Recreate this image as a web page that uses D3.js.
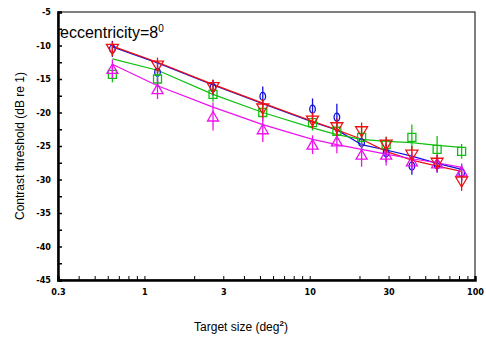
<!DOCTYPE html>
<html lang="en">
<head>
<meta charset="UTF-8">
<script src="https://cdn.jsdelivr.net/npm/d3@7"></script>
<style>
  body { margin: 0; background: #fff; }
  svg { display: block; }
  .tick-label { font-family: "DejaVu Sans Condensed", "Liberation Sans Narrow", sans-serif; font-weight: bold; font-size: 9px; }
  .title { font-family: "Liberation Sans", Arial, sans-serif; font-size: 12px; }
</style>
</head>
<body>
<div id="chart"></div>
<script>
// target sizes (deg^2)
const sizes = [0.64, 1.2, 2.6, 5.2, 10.4, 14.6, 20.6, 29, 41.5, 59, 83];

// thresholds (dB re 1) per condition
const blueVals    = [-10.5, -14.0, -16.3, -17.6, -19.5, -20.7, -24.5, -26.0, -28.0, -27.8, -29.0];
const redVals     = [-10.5, -13.0, -16.2, -19.4, -21.2, -22.2, -22.8, -24.8, -26.3, -27.5, -30.3];
const greenVals   = [-14.3, -15.0, -17.3, -20.0, -21.5, -22.8, -23.7, -24.8, -23.7, -25.5, -25.8];
const magentaVals = [-13.5, -16.5, -20.6, -22.5, -24.8, -24.3, -26.3, -26.3, -27.3, -27.6, -28.8];

// error bar half-lengths (dB)
const blueErr    = [0.6, 0.8, 0.6, 0.9, 1.0, 1.4, 0.6, 0.8, 0.7, 0.6, 0.6];
const redErr     = [0.5, 0.6, 0.5, 0.8, 0.6, 0.7, 0.7, 0.6, 0.7, 0.6, 0.8];
const greenErr   = [0.6, 0.6, 0.5, 0.7, 0.6, 0.7, 1.0, 0.6, 1.3, 1.4, 0.5];
const magentaErr = [0.8, 0.9, 1.5, 1.3, 0.8, 1.2, 1.2, 1.0, 0.9, 0.7, 0.6];

// fitted curves at the same sizes
const blueFit    = [-10.2, -12.6, -15.9, -18.7, -21.4, -22.6, -24.8, -25.6, -26.5, -27.6, -28.5];
const redFit     = [-10.1, -12.5, -15.8, -18.6, -21.3, -22.6, -24.0, -25.8, -27.1, -28.0, -28.8];
const greenFit   = [-12.0, -13.7, -17.3, -20.0, -22.3, -23.3, -24.0, -24.3, -24.5, -24.9, -25.2];
const magentaFit = [-12.8, -16.0, -19.2, -21.8, -24.0, -24.8, -25.5, -26.2, -26.9, -27.5, -28.2];

const xTickVals = [0.3, 1, 3, 10, 30, 100];
const yTickVals = [-5, -10, -15, -20, -25, -30, -35, -40, -45];

const width = 486, height = 342;
const margin = { left: 58, right: 11, top: 12, bottom: 62 };

const svg = d3.select("#chart").append("svg")
    .attr("width", width)
    .attr("height", height);

const x = d3.scaleLog().domain([0.3, 100]).range([margin.left, width - margin.right]);
const y = d3.scaleLinear().domain([-45, -5]).range([height - margin.bottom, margin.top]);

// frame
svg.append("rect")
    .attr("x", x(0.3)).attr("y", y(-5))
    .attr("width", x(100) - x(0.3)).attr("height", y(-45) - y(-5))
    .attr("fill", "none").attr("stroke", "#000").attr("stroke-width", 1);

// x axis (ticks inward)
const xMinor = [];
[0.1, 1, 10].forEach(d => { for (let k = 2; k <= 9; k++) { const v = d * k; if (v > 0.3 && v < 100 && v !== 0.3 && v !== 3 && v !== 30) xMinor.push(v); } });
const xAxis = d3.axisBottom(x).tickValues(xTickVals.concat(xMinor))
    .tickSize(-4).tickPadding(9)
    .tickFormat(d => xTickVals.includes(d) ? String(d) : "");
const gx = svg.append("g").attr("transform", `translate(0,${y(-45)})`).call(xAxis);
gx.select(".domain").attr("stroke-width", 2.5);
gx.selectAll(".tick line").attr("stroke-width", 1);
gx.selectAll("text").attr("class", "tick-label").attr("fill", "#000");

// y axis (ticks inward)
const yMinor = d3.range(-42.5, -5, 5);
const yAxis = d3.axisLeft(y).tickValues(yTickVals.concat(yMinor))
    .tickSize(-4).tickPadding(7)
    .tickFormat(d => yTickVals.includes(d) ? String(d) : "");
const gy = svg.append("g").attr("transform", `translate(${x(0.3)},0)`).call(yAxis);
gy.select(".domain").attr("stroke-width", 2.5);
gy.selectAll(".tick line").attr("stroke-width", 1.5);
gy.selectAll("text").attr("class", "tick-label").attr("fill", "#000");

// titles
svg.append("text").attr("class", "title")
    .attr("transform", `translate(24,${(y(-5) + y(-45)) / 2}) rotate(-90)`)
    .attr("text-anchor", "middle")
    .text("Contrast threshold (dB re 1)");

const xt = svg.append("text").attr("class", "title")
    .attr("x", 241).attr("y", 331).attr("text-anchor", "middle");
xt.append("tspan").text("Target size (deg");
xt.append("tspan").attr("dy", -5).attr("font-size", 8).attr("font-weight", "bold").text("2");
xt.append("tspan").attr("dy", 5).text(")");

const ecc = svg.append("text")
    .attr("x", 60).attr("y", 38)
    .style("font-family", "'Liberation Sans', Arial, sans-serif")
    .style("font-size", "16px");
ecc.append("tspan").text("eccentricity=8");
ecc.append("tspan").attr("dy", -6).attr("font-size", 10).text("0");

const series = [
    { vals: blueVals,    err: blueErr,    fit: blueFit,    color: "#1010e0", sym: "circle" },
    { vals: greenVals,   err: greenErr,   fit: greenFit,   color: "#10c010", sym: "square" },
    { vals: magentaVals, err: magentaErr, fit: magentaFit, color: "#ee10ee", sym: "up" },
    { vals: redVals,     err: redErr,     fit: redFit,     color: "#ee1010", sym: "down" }
];

const line = d3.line().x(d => x(d[0])).y(d => y(d[1]));

// fit lines: blue first so red lies over it
[0, 3, 1, 2].forEach(i => {
    const s = series[i];
    svg.append("path")
        .attr("d", line(sizes.map((v, j) => [v, s.fit[j]])))
        .attr("fill", "none")
        .attr("stroke", s.color)
        .attr("stroke-width", 1.2);
});

function symbolPath(sym) {
    if (sym === "circle") return "M0,-4 A2.8,4 0 1,1 0,4 A2.8,4 0 1,1 0,-4";
    if (sym === "square") return "M-4,-4 H4 V4 H-4 Z";
    if (sym === "up") return "M0,-5 L5.5,4.5 L-5.5,4.5 Z";
    return "M0,5.5 L6,-4.5 L-6,-4.5 Z";
}

series.forEach(s => {
    const g = svg.append("g").attr("stroke", s.color).attr("fill", "none").attr("stroke-width", 1.3);
    sizes.forEach((v, j) => {
        const cx = x(v), cy = y(s.vals[j]);
        g.append("line")
            .attr("x1", cx).attr("x2", cx)
            .attr("y1", y(s.vals[j] + s.err[j]) - 4)
            .attr("y2", y(s.vals[j] - s.err[j]) + 4);
        g.append("path")
            .attr("transform", `translate(${cx},${cy})`)
            .attr("d", symbolPath(s.sym));
    });
});
</script>
</body>
</html>
